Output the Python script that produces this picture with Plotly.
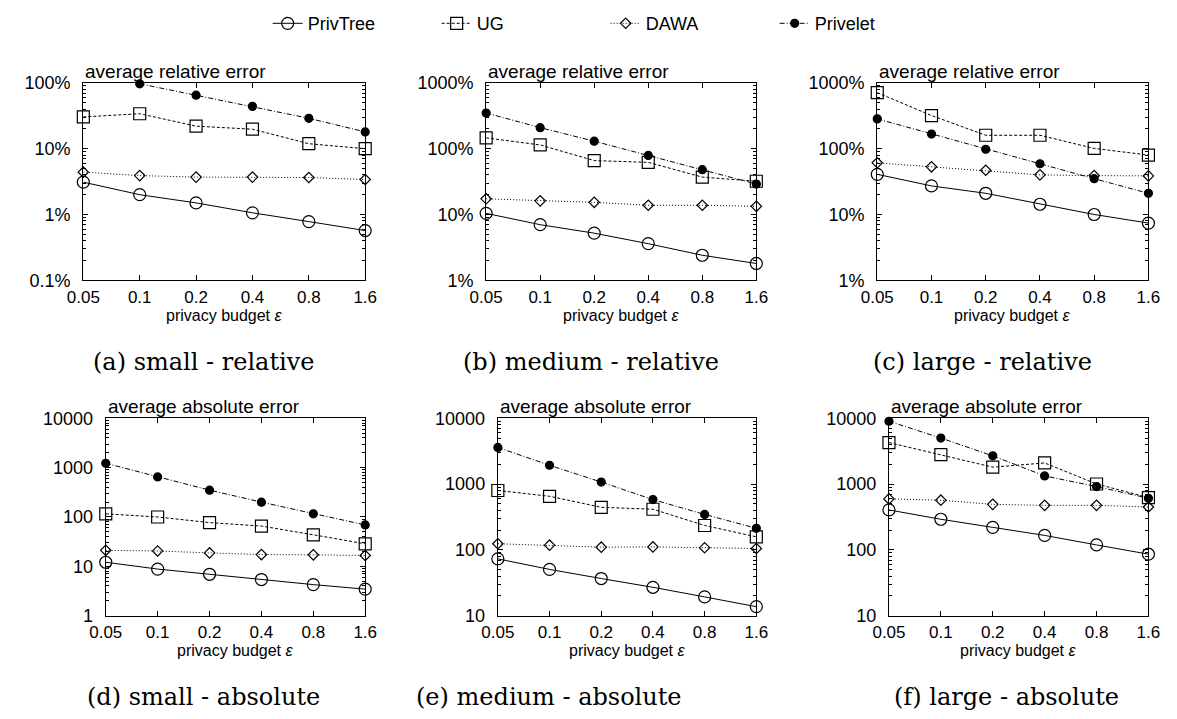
import math
import plotly.graph_objects as go

W, H = 1177, 719

eps = [0.05, 0.1, 0.2, 0.4, 0.8, 1.6]
eps_labels = ["0.05", "0.1", "0.2", "0.4", "0.8", "1.6"]
methods = ["PrivTree", "UG", "DAWA", "Privelet"]

# relative error (%)
small_rel_privtree = [3.1, 2.0, 1.5, 1.06, 0.78, 0.57]
small_rel_ug = [30.4, 34, 22, 19.8, 11.9, 10]
small_rel_dawa = [4.4, 3.9, 3.7, 3.7, 3.65, 3.4]
small_rel_privelet = [None, 97, 65, 44, 29, 18]

medium_rel_privtree = [10.4, 7.0, 5.2, 3.6, 2.4, 1.8]
medium_rel_ug = [146, 114, 66, 62, 37, 32]
medium_rel_dawa = [17.3, 16.1, 15.3, 13.8, 13.8, 13.3]
medium_rel_privelet = [349, 209, 130, 79, 48, 29]

large_rel_privtree = [40.8, 27.2, 21, 14.3, 10, 7.4]
large_rel_ug = [712, 319, 160, 160, 101, 80]
large_rel_dawa = [61, 53, 47, 40, 39, 38.6]
large_rel_privelet = [284, 167, 98, 59, 35, 21]

# absolute error
small_abs_privtree = [12.1, 8.8, 6.9, 5.4, 4.26, 3.45]
small_abs_ug = [116, 100, 77, 65.5, 43.6, 28.6]
small_abs_dawa = [21.1, 20.5, 18.7, 17.3, 17.1, 16.6]
small_abs_privelet = [1227, 650, 350, 200, 116, 69]

medium_abs_privtree = [73, 50.5, 36.7, 27, 19.3, 13.7]
medium_abs_ug = [800, 653, 444, 415, 235, 158]
medium_abs_dawa = [124, 118, 110, 111, 108, 105]
medium_abs_privelet = [3607, 1936, 1074, 582, 346, 213]

large_abs_privtree = [405, 292, 220, 166, 119, 86]
large_abs_ug = [4276, 2812, 1808, 2096, 1004, 624]
large_abs_dawa = [596, 570, 492, 475, 475, 449]
large_abs_privelet = [9032, 5010, 2687, 1332, 917, 610]

rel_ticks_small = [0.1, 1, 10, 100]
rel_ticks_big = [1, 10, 100, 1000]
abs_ticks_small = [1, 10, 100, 1000, 10000]
abs_ticks_big = [10, 100, 1000, 10000]

SANS = "Liberation Sans, Arial, Helvetica, sans-serif"
SERIF = "DejaVu Serif, serif"

styles = {
    "PrivTree": dict(symbol="circle-open", size=12, dash="solid"),
    "UG": dict(symbol="square-open", size=12, dash="3px,2px"),
    "DAWA": dict(symbol="diamond-open", size=8, dash="1px,2px"),
    "Privelet": dict(symbol="circle", size=8, dash="5px,2px,1px,2px"),
}

panels = [
    dict(px=(68, 357), py=(75, 278), series=[small_rel_privtree, small_rel_ug, small_rel_dawa, small_rel_privelet],
         yt=rel_ticks_small, pct=True, title="average relative error", caption="(a) small - relative", cx=192, cy=362),
    dict(px=(481, 758), py=(75, 278), series=[medium_rel_privtree, medium_rel_ug, medium_rel_dawa, medium_rel_privelet],
         yt=rel_ticks_big, pct=True, title="average relative error", caption="(b) medium - relative", cx=589, cy=362),
    dict(px=(882, 1160), py=(75, 278), series=[large_rel_privtree, large_rel_ug, large_rel_dawa, large_rel_privelet],
         yt=rel_ticks_big, pct=True, title="average relative error", caption="(c) large - relative", cx=990, cy=362),
    dict(px=(91, 357), py=(420, 623), series=[small_abs_privtree, small_abs_ug, small_abs_dawa, small_abs_privelet],
         yt=abs_ticks_small, pct=False, title="average absolute error", caption="(d) small - absolute", cx=191, cy=707),
    dict(px=(493, 758), py=(420, 623), series=[medium_abs_privtree, medium_abs_ug, medium_abs_dawa, medium_abs_privelet],
         yt=abs_ticks_big, pct=False, title="average absolute error", caption="(e) medium - absolute", cx=545, cy=707),
    dict(px=(894, 1160), py=(420, 623), series=[large_abs_privtree, large_abs_ug, large_abs_dawa, large_abs_privelet],
         yt=abs_ticks_big, pct=False, title="average absolute error", caption="(f) large - absolute", cx=1015, cy=707),
]

fig = go.Figure()
annotations = []
layout = {}

def fmt(v, pct):
    s = ("%g" % v)
    return s + "%" if pct else s

for i, p in enumerate(panels):
    n = "" if i == 0 else str(i + 1)
    xa, ya = "x" + n, "y" + n
    x0, x1 = p["px"][0] / W, p["px"][1] / W
    y0, y1 = 1 - p["py"][1] / H, 1 - p["py"][0] / H
    for m, ser in zip(methods, p["series"]):
        st = styles[m]
        fig.add_trace(go.Scatter(
            x=eps, y=ser, name=m, xaxis=xa, yaxis=ya, mode="lines+markers",
            showlegend=(i == 0), cliponaxis=False, connectgaps=False,
            line=dict(color="black", width=1, dash=st["dash"]),
            marker=dict(symbol=st["symbol"], size=st["size"], color="black",
                        line=dict(color="black", width=1.2)),
        ))
    yt = p["yt"]
    lo, hi = math.log10(yt[0]), math.log10(yt[-1])
    minor_vals = [k * 10 ** d for d in range(int(round(lo)), int(round(hi))) for k in range(2, 10)]
    layout["xaxis" + n] = dict(
        domain=[x0, x1], anchor=ya, type="log",
        range=[math.log10(eps[0]), math.log10(eps[-1])],
        tickvals=eps, ticktext=eps_labels, ticks="inside", ticklen=5, tickcolor="black",
        showline=True, linecolor="black", linewidth=1.2, mirror="ticks",
        showgrid=False, zeroline=False, ticklabelstandoff=1,
        tickfont=dict(family=SANS, size=17, color="black"),
    )
    layout["yaxis" + n] = dict(
        domain=[y0, y1], anchor=xa, type="log", range=[lo, hi],
        tickvals=yt, ticktext=[fmt(v, p["pct"]) for v in yt], ticks="inside", ticklen=5,
        tickcolor="black", showline=True, linecolor="black", linewidth=1.2, mirror="allticks",
        showgrid=False, zeroline=False, ticklabelstandoff=8,
        minor=dict(tickvals=minor_vals, ticks="inside", ticklen=3, tickcolor="black", showgrid=False),
        tickfont=dict(family=SANS, size=18, color="black"),
    )
    annotations.append(dict(x=x0, y=y1, xref="paper", yref="paper", xanchor="left", yanchor="bottom",
                            text=p["title"], showarrow=False, yshift=-1,
                            font=dict(family=SANS, size=19, color="black")))
    annotations.append(dict(x=(x0 + x1) / 2, y=1 - (p["py"][1] + 36) / H, xref="paper", yref="paper",
                            xanchor="center", yanchor="middle", text="privacy budget <i>ε</i>",
                            showarrow=False, font=dict(family=SANS, size=16, color="black")))
    annotations.append(dict(x=p["cx"] / W, y=1 - p["cy"] / H, xref="paper", yref="paper",
                            xanchor="center", yanchor="middle", text=p["caption"], showarrow=False,
                            font=dict(family=SERIF, size=24, color="black")))

fig.update_layout(
    width=W, height=H, margin=dict(l=0, r=0, t=0, b=0),
    paper_bgcolor="white", plot_bgcolor="white",
    annotations=annotations,
    legend=dict(orientation="h", x=257 / W, xanchor="left", y=1 - 14 / H, yanchor="middle",
                font=dict(family=SANS, size=18, color="black"), bgcolor="rgba(0,0,0,0)",
                entrywidth=124, itemwidth=30),
    **layout,
)

fig.write_html("out.html")
